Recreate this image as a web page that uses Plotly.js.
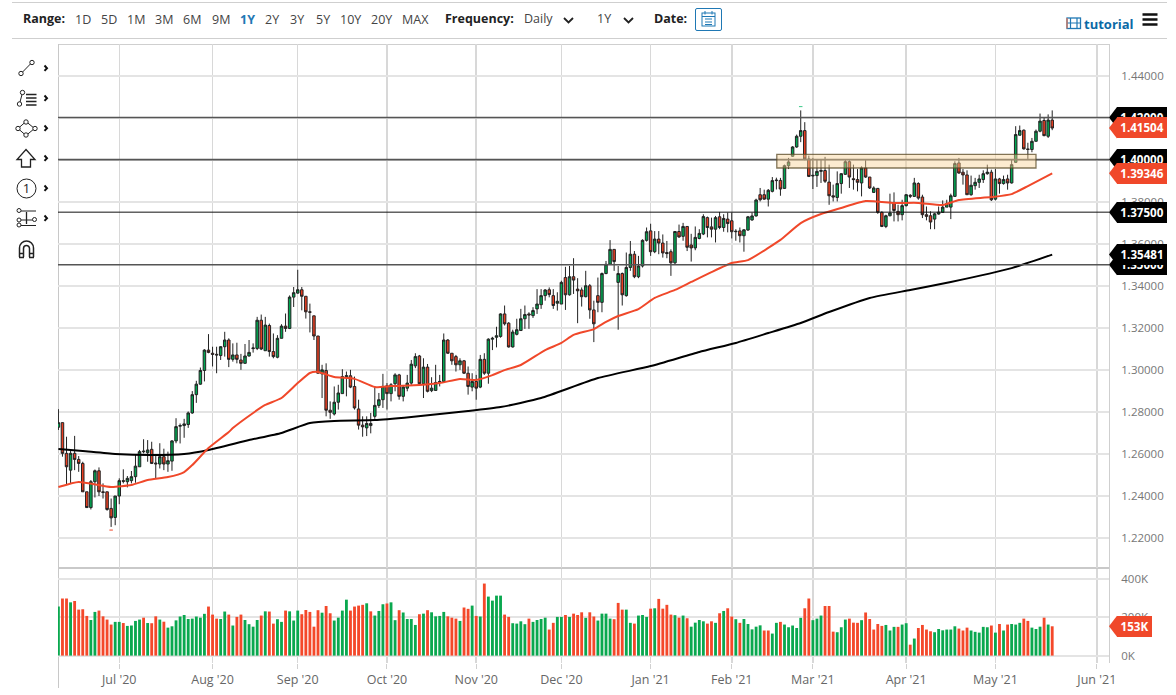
<!DOCTYPE html>
<html>
<head>
<meta charset="utf-8">
<script src="https://cdn.plot.ly/plotly-3.0.1.min.js"></script>
<style>
html,body{margin:0;padding:0;background:#fff;overflow:hidden}
#wrap{position:relative;width:1176px;height:695px}
#chart{position:absolute;left:0;top:0;width:1176px;height:695px}
#icons{position:absolute;left:0;top:0;width:1176px;height:695px;pointer-events:none}
</style>
</head>
<body>
<div id="wrap"><div id="chart"></div>
<svg id="icons" viewBox="0 0 1176 695" fill="none" stroke="#222" stroke-width="1">
  <g><circle cx="21" cy="73.5" r="2.2"/><circle cx="32" cy="62.5" r="2.2"/><path d="M22.6 72 L30.4 64"/></g>
  <g><circle cx="19.500" cy="104" r="2.2"/><circle cx="22.500" cy="92.500" r="2.2"/><path d="M20 102 L22 94.500"/><path d="M26 94.500H36.500M26 98H36.500M26 101.500H36.500M26 105H36.500" stroke-width="1.300"/></g>
  <g><path d="M26 121.500 L34.500 128.500 L26 135.500 L18 128.500 Z" stroke-width="1"/><circle cx="26" cy="122" r="2.200" fill="#fff"/><circle cx="35" cy="128.500" r="2.200" fill="#fff"/><circle cx="26" cy="135" r="2.200" fill="#fff"/><circle cx="18" cy="128.500" r="2.200" fill="#fff"/></g>
  <path d="M26 149.500 L35 159.500 H30.500 V167 H21.500 V159.500 H17 Z" stroke-width="1.300"/>
  <g><circle cx="26.500" cy="188.500" r="9.500"/><text x="26.500" y="193" text-anchor="middle" font-family="Open Sans" font-size="13" fill="#222" stroke="none">1</text></g>
  <g><circle cx="19" cy="210.500" r="2"/><circle cx="19" cy="220" r="2"/><circle cx="19" cy="225" r="2"/><circle cx="34.500" cy="219.500" r="2"/><path d="M21 211H36M21 220H32.500M21 225.500H36"/><path d="M26.500 212V224" stroke-width="1.300"/></g>
  <g stroke-width="1.500"><path d="M19.500 257V248A7 7 0 0 1 33.500 248V257"/><path d="M23.500 257V248.500A3 3 0 0 1 29.500 248.500V257"/><path d="M19 253.500H24M29 253.500H34M19 257.500H24M29 257.500H34"/></g>
  <g stroke-width="2" stroke="#111"><path d="M44.500 65.500l2.500 2.700l-2.500 2.700M44.500 95.500l2.500 2.700l-2.500 2.700M44.500 125.500l2.500 2.700l-2.500 2.700M44.500 155.500l2.500 2.700l-2.500 2.700M44.500 185.500l2.500 2.700l-2.500 2.700M44.500 215.500l2.500 2.700l-2.500 2.700"/></g>
  <g stroke-width="1.800" stroke="#222"><path d="M564 18l4.500 4.500l4.500-4.500M624 18l4.500 4.500l4.500-4.500"/></g>
  <g><rect x="695.500" y="8.500" width="26" height="22" rx="1.500" stroke="#1f78b4"/><rect x="702" y="13" width="13" height="13" stroke="#1f78b4"/><path d="M702 16.500H715M705 19H712M705 22H712M705 24.500H712" stroke="#1f78b4"/><path d="M705 11V14.500M712 11V14.500" stroke="#1f78b4"/></g>
  <g><rect x="1067" y="18" width="13.500" height="10.500" stroke="#1f78b4" stroke-width="1.300"/><path d="M1070.500 18V28.500M1077 18V28.500M1067 23H1080.500" stroke="#1f78b4" stroke-width="1.200"/><path d="M1067 18V28.500" stroke="#e07050" stroke-width="1.200"/></g>
  <g stroke-width="2.400" stroke="#111"><path d="M1142.500 14.500H1157.500M1142.500 19.500H1157.500M1142.500 24.500H1157.500"/></g>
</svg>
</div>
<script>
// ---- price data (daily candles) ----
const open = [
1.2727,1.2749,1.2603,1.2523,1.2603,1.2574,1.2555,1.2420,1.2345,1.2468,
1.2520,1.2420,1.2420,1.2341,1.2298,1.2400,1.2473,1.2468,1.2473,1.2492,
1.2539,1.2614,1.2606,1.2622,1.2557,1.2552,1.2587,1.2552,1.2566,1.2662,
1.2732,1.2735,1.2740,1.2795,1.2882,1.2932,1.2997,1.3094,1.3079,1.3074,
1.3068,1.3110,1.3142,1.3050,1.3071,1.3047,1.3031,1.3066,1.3101,1.3102,
1.3236,1.3091,1.3211,1.3087,1.3060,1.3150,1.3208,1.3197,1.3346,1.3365,
1.3381,1.3350,1.3276,1.3257,1.3161,1.2981,1.2997,1.2808,1.2790,1.2846,
1.2887,1.2968,1.2972,1.2921,1.2814,1.2737,1.2724,1.2735,1.2779,1.2831,
1.2858,1.2924,1.2887,1.2934,1.2976,1.2874,1.2913,1.2937,1.3019,1.3066,
1.2934,1.3013,1.2901,1.2902,1.2940,1.2945,1.3142,1.3079,1.3063,1.3024,
1.3043,1.2984,1.2918,1.2945,1.2918,1.3050,1.2984,1.3146,1.3155,1.3159,
1.3266,1.3222,1.3109,1.3169,1.3187,1.3243,1.3266,1.3258,1.3290,1.3310,
1.3353,1.3381,1.3353,1.3317,1.3313,1.3439,1.3357,1.3443,1.3384,1.3380,
1.3348,1.3400,1.3285,1.3353,1.3321,1.3458,1.3502,1.3573,1.3416,1.3458,
1.3353,1.3487,1.3550,1.3443,1.3494,1.3616,1.3661,1.3562,1.3622,1.3603,
1.3558,1.3562,1.3509,1.3658,1.3635,1.3682,1.3594,1.3580,1.3625,1.3646,
1.3724,1.3680,1.3669,1.3728,1.3677,1.3717,1.3709,1.3657,1.3661,1.3638,
1.3665,1.3713,1.3732,1.3833,1.3833,1.3812,1.3849,1.3900,1.3901,1.3863,
1.3971,1.4016,1.4060,1.4111,1.4138,1.4003,1.3922,1.3924,1.3944,1.3948,
1.3893,1.3828,1.3820,1.3886,1.3930,1.3990,1.3909,1.3905,1.3889,1.3960,
1.3917,1.3844,1.3863,1.3749,1.3682,1.3733,1.3796,1.3754,1.3738,1.3781,
1.3830,1.3825,1.3886,1.3822,1.3738,1.3733,1.3717,1.3741,1.3749,1.3774,
1.3774,1.3825,1.3984,1.3940,1.3927,1.3833,1.3876,1.3892,1.3905,1.3933,
1.3940,1.3812,1.3908,1.3886,1.3908,1.3889,1.3987,1.4116,1.4140,1.4051,
1.4048,1.4087,1.4135,1.4186,1.4111,1.4188];
const high = [
1.2813,1.2749,1.2682,1.2619,1.2686,1.2590,1.2563,1.2420,1.2476,1.2526,
1.2536,1.2460,1.2420,1.2388,1.2400,1.2484,1.2527,1.2495,1.2519,1.2595,
1.2619,1.2670,1.2666,1.2658,1.2590,1.2651,1.2625,1.2611,1.2666,1.2770,
1.2745,1.2767,1.2802,1.2899,1.2948,1.3011,1.3098,1.3170,1.3110,1.3110,
1.3113,1.3181,1.3150,1.3126,1.3129,1.3076,1.3123,1.3142,1.3126,1.3252,
1.3263,1.3252,1.3220,1.3173,1.3165,1.3217,1.3268,1.3354,1.3394,1.3476,
1.3394,1.3350,1.3315,1.3257,1.3161,1.3024,1.3031,1.2850,1.2921,1.2929,
1.3003,1.2992,1.3000,1.2968,1.2858,1.2779,1.2779,1.2795,1.2921,1.2890,
1.2981,1.2937,1.2937,1.2984,1.2981,1.2924,1.2976,1.3047,1.3079,1.3071,
1.3055,1.3028,1.2965,1.3024,1.2976,1.3173,1.3146,1.3079,1.3071,1.3055,
1.3047,1.3016,1.2984,1.2976,1.3071,1.3079,1.3150,1.3157,1.3205,1.3269,
1.3306,1.3227,1.3191,1.3243,1.3290,1.3306,1.3274,1.3298,1.3384,1.3384,
1.3384,1.3392,1.3384,1.3369,1.3424,1.3490,1.3494,1.3531,1.3436,1.3392,
1.3471,1.3408,1.3329,1.3439,1.3463,1.3518,1.3617,1.3573,1.3494,1.3463,
1.3558,1.3613,1.3565,1.3542,1.3621,1.3677,1.3695,1.3660,1.3660,1.3644,
1.3613,1.3573,1.3660,1.3691,1.3699,1.3684,1.3647,1.3682,1.3669,1.3740,
1.3729,1.3724,1.3732,1.3751,1.3740,1.3748,1.3748,1.3669,1.3677,1.3669,
1.3732,1.3748,1.3814,1.3865,1.3857,1.3860,1.3917,1.3914,1.3913,1.3976,
1.4008,1.4064,1.4119,1.4234,1.4178,1.4019,1.4008,1.4003,1.4003,1.4013,
1.3976,1.3881,1.3944,1.3936,1.4000,1.3997,1.3976,1.3955,1.3968,1.3997,
1.3917,1.3873,1.3865,1.3754,1.3738,1.3838,1.3844,1.3785,1.3809,1.3836,
1.3836,1.3913,1.3892,1.3833,1.3777,1.3754,1.3746,1.3777,1.3806,1.3809,
1.3838,1.3992,1.4008,1.3955,1.3949,1.3924,1.3913,1.3928,1.3949,1.3976,
1.3952,1.3955,1.3913,1.3924,1.3928,1.4000,1.4159,1.4162,1.4143,1.4080,
1.4103,1.4143,1.4219,1.4199,1.4215,1.4234];
const low = [
1.2714,1.2587,1.2452,1.2457,1.2523,1.2515,1.2420,1.2345,1.2336,1.2393,
1.2400,1.2388,1.2330,1.2253,1.2261,1.2361,1.2460,1.2441,1.2460,1.2463,
1.2539,1.2603,1.2563,1.2552,1.2484,1.2531,1.2523,1.2515,1.2520,1.2651,
1.2650,1.2677,1.2724,1.2791,1.2843,1.2929,1.2945,1.3079,1.3016,1.2984,
1.3047,1.3063,1.3013,1.3039,1.3031,1.3000,1.3031,1.3063,1.3082,1.3094,
1.3094,1.3091,1.3063,1.3055,1.3055,1.3150,1.3181,1.3194,1.3299,1.3362,
1.3283,1.3244,1.3178,1.3142,1.2984,1.2866,1.2779,1.2767,1.2783,1.2811,
1.2887,1.2874,1.2913,1.2811,1.2716,1.2682,1.2685,1.2698,1.2767,1.2819,
1.2819,1.2811,1.2850,1.2898,1.2858,1.2850,1.2898,1.2929,1.3008,1.2929,
1.2866,1.2893,1.2894,1.2902,1.2921,1.2940,1.3076,1.3024,1.2992,1.3000,
1.2981,1.2882,1.2898,1.2858,1.2913,1.2976,1.2934,1.3094,1.3107,1.3153,
1.3211,1.3106,1.3106,1.3164,1.3187,1.3195,1.3195,1.3247,1.3266,1.3290,
1.3329,1.3345,1.3290,1.3282,1.3313,1.3285,1.3353,1.3361,1.3222,1.3301,
1.3345,1.3243,1.3132,1.3274,1.3274,1.3455,1.3499,1.3471,1.3191,1.3306,
1.3348,1.3471,1.3436,1.3436,1.3487,1.3610,1.3542,1.3555,1.3550,1.3534,
1.3531,1.3447,1.3502,1.3628,1.3614,1.3565,1.3515,1.3569,1.3621,1.3641,
1.3630,1.3630,1.3606,1.3669,1.3657,1.3654,1.3625,1.3614,1.3606,1.3562,
1.3661,1.3709,1.3729,1.3801,1.3809,1.3777,1.3844,1.3858,1.3828,1.3860,
1.3955,1.4013,1.4056,1.4083,1.3997,1.3917,1.3860,1.3870,1.3889,1.3889,
1.3785,1.3801,1.3801,1.3838,1.3927,1.3865,1.3857,1.3849,1.3825,1.3913,
1.3860,1.3841,1.3742,1.3679,1.3674,1.3730,1.3706,1.3706,1.3711,1.3777,
1.3817,1.3822,1.3809,1.3722,1.3711,1.3669,1.3669,1.3738,1.3746,1.3774,
1.3717,1.3822,1.3933,1.3881,1.3833,1.3828,1.3857,1.3865,1.3889,1.3928,
1.3803,1.3806,1.3838,1.3881,1.3857,1.3886,1.3984,1.4114,1.4048,1.4003,
1.4035,1.4087,1.4130,1.4111,1.4103,1.4140];
const close = [
1.2749,1.2603,1.2539,1.2603,1.2574,1.2555,1.2420,1.2345,1.2468,1.2520,
1.2420,1.2417,1.2336,1.2296,1.2400,1.2473,1.2470,1.2484,1.2492,1.2542,
1.2611,1.2611,1.2619,1.2555,1.2553,1.2587,1.2552,1.2568,1.2662,1.2730,
1.2735,1.2743,1.2795,1.2882,1.2932,1.2997,1.3094,1.3083,1.3074,1.3071,
1.3110,1.3142,1.3050,1.3071,1.3050,1.3031,1.3066,1.3083,1.3104,1.3236,
1.3099,1.3213,1.3087,1.3063,1.3150,1.3208,1.3197,1.3346,1.3367,1.3381,
1.3350,1.3276,1.3274,1.3161,1.2984,1.3000,1.2808,1.2798,1.2846,1.2890,
1.2968,1.2972,1.2918,1.2819,1.2737,1.2729,1.2745,1.2745,1.2831,1.2858,
1.2921,1.2887,1.2929,1.2976,1.2874,1.2918,1.2937,1.3027,1.3063,1.2934,
1.3013,1.2898,1.2913,1.2940,1.2945,1.3142,1.3079,1.3043,1.3024,1.3043,
1.2984,1.2921,1.2945,1.2913,1.3050,1.2984,1.3146,1.3150,1.3162,1.3266,
1.3219,1.3109,1.3180,1.3191,1.3243,1.3263,1.3261,1.3282,1.3313,1.3353,
1.3380,1.3358,1.3306,1.3326,1.3416,1.3357,1.3443,1.3427,1.3376,1.3348,
1.3400,1.3285,1.3219,1.3321,1.3458,1.3502,1.3573,1.3515,1.3458,1.3357,
1.3487,1.3550,1.3443,1.3494,1.3616,1.3657,1.3562,1.3622,1.3603,1.3556,
1.3553,1.3509,1.3658,1.3632,1.3682,1.3583,1.3580,1.3630,1.3649,1.3729,
1.3677,1.3669,1.3724,1.3677,1.3720,1.3696,1.3657,1.3659,1.3638,1.3666,
1.3728,1.3732,1.3808,1.3809,1.3812,1.3854,1.3900,1.3902,1.3860,1.3971,
1.3989,1.4060,1.4111,1.4138,1.4003,1.3920,1.3925,1.3944,1.3948,1.3897,
1.3828,1.3822,1.3886,1.3933,1.3990,1.3917,1.3905,1.3892,1.3960,1.3917,
1.3865,1.3865,1.3749,1.3682,1.3733,1.3746,1.3758,1.3738,1.3781,1.3833,
1.3826,1.3889,1.3817,1.3738,1.3730,1.3703,1.3742,1.3750,1.3774,1.3790,
1.3828,1.3981,1.3936,1.3927,1.3833,1.3878,1.3892,1.3908,1.3933,1.3940,
1.3809,1.3908,1.3886,1.3905,1.3889,1.3976,1.4119,1.4138,1.4051,1.4048,
1.4087,1.4135,1.4183,1.4114,1.4188,1.4150];
// ---- volume in thousands, with the colour direction read per bar ----
const volume = [
256,298,298,278,285,240,242,207,186,228,
235,205,188,162,176,176,170,155,157,181,
188,198,170,169,205,188,177,146,153,184,
204,212,191,193,204,198,218,256,214,193,
191,230,214,157,202,214,186,164,151,186,
209,231,230,167,190,176,235,231,183,235,
216,238,228,151,237,224,259,221,183,198,
235,292,235,256,261,265,273,231,209,233,
268,272,278,185,237,225,191,191,160,216,
219,237,226,205,207,228,205,198,193,181,
251,244,261,207,204,376,308,287,313,313,
214,202,169,167,179,164,193,176,186,191,
198,136,171,202,202,212,202,219,212,226,
197,226,204,183,219,219,193,190,275,240,
240,171,167,209,212,202,245,247,296,245,
265,214,211,198,209,195,151,172,186,179,
167,179,171,221,233,247,204,190,171,191,
165,137,151,158,131,131,115,171,176,162,
148,157,144,197,247,298,185,193,209,259,
259,125,122,148,188,193,172,171,185,225,
191,136,165,155,160,131,150,150,162,169,
57,89,144,160,136,127,122,139,132,136,
136,153,141,131,146,131,124,120,150,148,
157,120,165,131,162,165,162,171,193,181,
146,139,151,198,162,153];
const volumeDirection =
"GRRGRRRRGG"+"RRRRGGRGGG"+"GRGRRGRGGG"+"GGGGGGGRRR"+"GGRGRRGGGG"+
"RGRRGGRGGG"+"RRRRRGRRGG"+"GGRRRRGRGG"+"GRGGRGGGGR"+"GRGGGGRRRG"+
"RRGRGRGGGG"+"RRGGGGRGGG"+"GRRGGRGRRR"+"GRRGGGGRRR"+"GGRGGGRGRR"+
"RRGRGRGGGG"+"RRGRGRRGRG"+"GGGGRRGGRG"+"GGGGRRGGGR"+"RRGGGRRRGR"+
"RRRRGGGRGG"+"RGRRRRGGGG"+"GGRRRGGGGG"+"RGRGRGGGRR"+"GGGRGR";
// ---- moving averages, read at these bar positions ----
const ma50Bars = [0,5,13,18,22,27,31,33,37,42,43,48,51,55,59,62,64,68,73,78,82,89,94,99,103,107,110,114,120,124,127,132,135,138,143,147,152,156,161,166,170,175,178,183,188,193,199,206,212,218,222,230,235,239,245];
const ma50 = [1.2443,1.2467,1.2443,1.2452,1.2476,1.2490,1.2514,1.2547,1.2628,1.2704,1.2723,1.2795,1.2833,1.2866,1.2937,1.2985,1.2990,1.2966,1.2957,1.2918,1.2923,1.2928,1.2937,1.2957,1.2952,1.2975,1.2999,1.3023,1.3094,1.3128,1.3166,1.3194,1.3228,1.3256,1.3289,1.3342,1.3380,1.3418,1.3465,1.3508,1.3522,1.3580,1.3618,1.3698,1.3741,1.3770,1.3803,1.3794,1.3794,1.3784,1.3808,1.3822,1.3836,1.3874,1.39346];
const ma200Bars = [0,6,14,23,31,37,47,55,62,68,78,87,94,101,109,119,133,146,158,167,175,183,190,200,210,220,235,245];
const ma200 = [1.2624,1.2614,1.2600,1.2595,1.2600,1.2619,1.2666,1.2700,1.2747,1.2757,1.2761,1.2776,1.2790,1.2804,1.2823,1.2866,1.2961,1.3018,1.3085,1.3128,1.3175,1.3223,1.3275,1.3342,1.3380,1.3418,1.3484,1.35481];
// ---- axis ticks ----
const monthBars = [15,38,59,81,103,124,146,166,186,209,231,256];
const monthLabels = ["Jul '20","Aug '20","Sep '20","Oct '20","Nov '20","Dec '20","Jan '21","Feb '21","Mar '21","Apr '21","May '21","Jun '21"];
const volumeTicks = [0,200,400];
const volumeTickLabels = ["0K","200K","400K"];
// ---- drawn levels ----
const levels = [1.42,1.40,1.375,1.35];
const zone = {bar0:177.1, bar1:241, top:1.4025, bottom:1.3960};
const extremeBars = [183,13];
const extremeValues = [1.4252,1.2238];
const priceTags = [
 {v:1.42000,c:"#000"},{v:1.41504,c:"#f0482a"},
 {v:1.40000,c:"#000"},{v:1.39346,c:"#f0482a"},
 {v:1.37500,c:"#000"},{v:1.35000,c:"#000"},{v:1.35481,c:"#000"}];
// ---- toolbar text ----
const rangeLabels = ["1D","5D","1M","3M","6M","9M","1Y","2Y","3Y","5Y","10Y","20Y","MAX"];
const rangeLeft = [73.5,99.5,125.5,153.5,181.5,210.5,238.5,263.5,288.5,314.5,338.5,369.5,400.5];

// ---- frame geometry ----
const W=1176,H=695,L=58,R=1109,T=44,B=663,SPLIT=568;
const PW=R-L,PH=B-T;
const px=x=>(x-L)/PW, py=y=>(B-y)/PH;
const xRange=[-0.1,259];
const yRange=[1.20576,1.45498];
const vRange=[-38.6,452];
const valToPy=v=>T+(yRange[1]-v)/(yRange[1]-yRange[0])*(SPLIT-T);
const volToPy=v=>SPLIT+1+(vRange[1]-v)/(vRange[1]-vRange[0])*(B-SPLIT-1);

const bars = open.map((_,i)=>i);
const GREEN="#0aa84f", RED="#f4482a";
const traces=[
 {type:'bar',x:bars,y:volume,xaxis:'x',yaxis:'y2',hoverinfo:'skip',
  marker:{color:bars.map(i=>volumeDirection[i]==='G'?GREEN:RED),line:{width:0}}},
 {type:'scatter',mode:'lines',x:ma200Bars,y:ma200,xaxis:'x',yaxis:'y',hoverinfo:'skip',
  line:{color:'#000',width:2,shape:'spline',smoothing:0.5}},
 {type:'scatter',mode:'lines',x:ma50Bars,y:ma50,xaxis:'x',yaxis:'y',hoverinfo:'skip',
  line:{color:'#f0482a',width:2,shape:'spline',smoothing:0.5}},
 {type:'candlestick',x:bars,open:open,high:high,low:low,close:close,xaxis:'x',yaxis:'y',hoverinfo:'skip',
  whiskerwidth:0,
  increasing:{fillcolor:'#00a651',line:{color:'#222',width:1}},
  decreasing:{fillcolor:'#ea3f22',line:{color:'#222',width:1}}},
 {type:'scatter',mode:'markers',x:extremeBars,y:extremeValues,xaxis:'x',yaxis:'y',hoverinfo:'skip',
  marker:{symbol:'line-ew',size:2.5,color:['#3cc98a','#f0482a'],line:{color:['#3cc98a','#f0482a'],width:1}}}
];

const FONT='"Open Sans", sans-serif';
const shapes=[];
const frame=(x0,y0,x1,y1,c,w)=>shapes.push({type:'line',xref:'paper',yref:'paper',x0:px(x0),x1:px(x1),y0:py(y0),y1:py(y1),line:{color:c,width:w},layer:'below'});
frame(12,2.5,1167,2.5,'#cfcfcf',1);
frame(12,38.5,1167,38.5,'#cfcfcf',1);
frame(L,44.5,R,44.5,'#cfcfcf',1);
frame(L+.5,44,L+.5,688,'#c8c8c8',1);
frame(R+.5,44,R+.5,B,'#cfcfcf',1);
frame(L,SPLIT,R,SPLIT,'#c9c9c9',2);
levels.forEach(v=>shapes.push({type:'line',xref:'paper',yref:'y',x0:0,x1:1,y0:v,y1:v,layer:'above',
  line:{color:v===1.375?'#111':'#555',width:v===1.375?1:1.6}}));
shapes.push({type:'rect',xref:'x',yref:'y',x0:zone.bar0,x1:zone.bar1,y0:zone.bottom,y1:zone.top,layer:'above',
  fillcolor:'rgba(248,210,150,0.45)',line:{color:'rgba(90,75,40,0.75)',width:1.3}});

const annotations=[];
const txt=(t,x,y,o={})=>annotations.push({text:t,xref:'paper',yref:'paper',x:px(x),y:py(y),xanchor:'left',yanchor:'middle',showarrow:false,borderpad:0,
  font:{family:FONT,size:o.size||12.5,color:o.color||'#333'}});
txt('<b>Range:</b>',22,19,{size:12.5,color:'#222'});
rangeLabels.forEach((t,i)=>txt(t==='1Y'?'<b>1Y</b>':t,rangeLeft[i],19.5,{color:t==='1Y'?'#1f78b4':'#444'}));
txt('<b>Frequency:</b>',444,19,{color:'#222'});
txt('Daily',523,19,{color:'#444'});
txt('1Y',596,19,{color:'#444'});
txt('<b>Date:</b>',653,19,{color:'#222'});
txt('<b>tutorial</b>',1083,23.5,{size:13,color:'#0b6aa6'});

const tag=(yc,c,text,right,yref,yv)=>{
  shapes.push({type:'path',xref:'paper',yref:'paper',layer:'above',fillcolor:c,line:{width:0},
    path:`M ${px(R)} ${py(yc)} L ${px(R+8)} ${py(yc-10.5)} L ${px(R+8)} ${py(yc+10.5)} Z`});
  annotations.push({text:'<b>'+text+'</b>',xref:'paper',yref:yref,x:px(R+8),y:yv,xanchor:'left',yanchor:'middle',showarrow:false,
    width:right-(R+8),height:21,bgcolor:c,borderpad:0,borderwidth:0,align:'center',font:{family:FONT,size:11.6,color:'#fff'}});
};
priceTags.forEach(t=>tag(valToPy(t.v),t.c,t.v.toFixed(5),1167,'y',t.v));
tag(volToPy(volume[volume.length-1]),'#f0482a',volume[volume.length-1]+'K',1152,'y2',volume[volume.length-1]);

const grid='#e4e4e4';
const layout={
 width:W,height:H,paper_bgcolor:'#fff',plot_bgcolor:'#fff',showlegend:false,
 margin:{l:L,r:W-R,t:T,b:H-B,pad:0},
 bargap:0.3,boxgap:0.12,hovermode:false,dragmode:false,
 font:{family:FONT,size:12.5,color:'#666'},
 xaxis:{domain:[0,1],anchor:'y2',range:xRange,tickmode:'array',tickvals:monthBars,ticktext:monthLabels,
   showgrid:true,gridcolor:'#d8d8d8',gridwidth:1.5,ticks:'outside',ticklen:5,tickcolor:'#d0d0d0',tickwidth:1,
   showline:false,zeroline:false,rangeslider:{visible:false},tickfont:{family:FONT,size:12.5,color:'#666'}},
 yaxis:{domain:[(B-SPLIT)/PH,1],anchor:'x',side:'right',range:yRange,tickmode:'array',
   tickvals:[1.22,1.24,1.26,1.28,1.30,1.32,1.34,1.36,1.38,1.40,1.42,1.44],tickformat:'.5f',
   showgrid:true,gridcolor:grid,gridwidth:2,ticks:'outside',ticklen:9,tickcolor:'rgba(0,0,0,0)',
   showline:false,zeroline:false,tickfont:{family:FONT,size:11.5,color:'#777'}},
 yaxis2:{domain:[0,(B-SPLIT-1)/PH],anchor:'x',side:'right',range:vRange,tickmode:'array',
   tickvals:volumeTicks,ticktext:volumeTickLabels,showgrid:true,gridcolor:grid,gridwidth:2,
   ticks:'outside',ticklen:9,tickcolor:'rgba(0,0,0,0)',showline:false,zeroline:false,
   tickfont:{family:FONT,size:11.5,color:'#777'}},
 shapes:shapes,annotations:annotations
};
Plotly.newPlot('chart',traces,layout,{displayModeBar:false,staticPlot:true});
</script>
</body>
</html>
